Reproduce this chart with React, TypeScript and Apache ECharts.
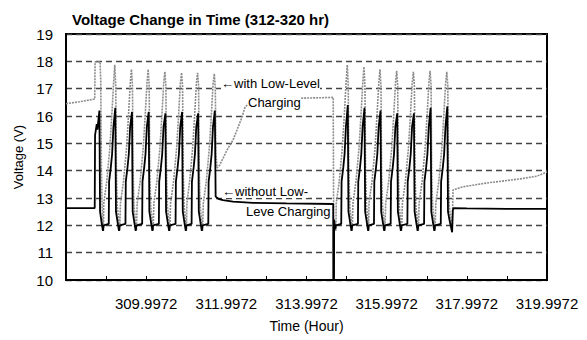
import React, { useEffect, useRef } from "react";
import * as echarts from "echarts";

// Time is given in minutes after 307.9972 hr; axis labels convert back to hours.
const T0_HOURS = 307.9972;
const X_MAX_MIN = 720;
const xLabelHours = [309.9972, 311.9972, 313.9972, 315.9972, 317.9972, 319.9972];
const Y_MIN = 10;
const Y_MAX = 19;

const seriesNames = ["with Low-Level Charging", "without Low-Level Charging"];

// with Low-Level Charging (grey dotted)
const withLowLevel: [number, number][] = [
  [0, 16.45], [20, 16.52], [43, 16.62], [43.5, 17.98], [51, 17.98], [52, 17.3], [53, 14.0], [54, 12.7], [55, 12.2], [56, 11.8],
  [56.5, 12.8], [61, 13.6], [65.5, 14.8], [68.5, 16.0], [71.2, 17.2], [73, 17.87], [74.5, 17.1], [75.4, 14.0], [76.8, 12.7], [79, 12.2], [80.5, 11.8],
  [81.5, 12.8], [86, 13.6], [90.5, 14.8], [93.5, 16.0], [96.2, 17.2], [98, 17.71], [99.5, 17.1], [100.4, 14.0], [101.8, 12.7], [104, 12.2], [105.5, 11.8],
  [106.5, 12.8], [111, 13.6], [115.5, 14.8], [118.5, 16.0], [121.2, 17.2], [123, 17.71], [124.5, 17.1], [125.4, 14.0], [126.8, 12.7], [129, 12.2], [130.5, 11.8],
  [131.5, 12.8], [136, 13.6], [140.5, 14.8], [143.5, 16.0], [146.2, 17.2], [148, 17.62], [149.5, 17.1], [150.4, 14.0], [151.8, 12.7], [154, 12.2], [155.5, 11.8],
  [156.5, 12.8], [161, 13.6], [165.5, 14.8], [168.5, 16.0], [171.2, 17.2], [173, 17.58], [174.5, 17.1], [175.4, 14.0], [176.8, 12.7], [179, 12.2], [180.3, 11.8],
  [181, 12.8], [185, 13.6], [189.5, 14.8], [192.5, 16.0], [195.2, 17.2], [197, 17.58], [198.5, 17.1], [199.4, 14.0], [200.8, 12.7], [203, 12.2], [204.5, 11.8],
  [205.5, 12.8], [210, 13.6], [214.5, 14.8], [217.5, 16.0], [220.2, 17.2], [222, 17.55], [223.5, 17.0], [224.5, 14.6], [226, 14.1],
  [230, 14.2], [235, 14.45], [242, 14.8], [250, 15.12], [257, 15.55], [263.5, 15.96], [268, 16.33], [274, 16.45], [280, 16.52], [298, 16.6], [350, 16.65], [400, 16.68],
  [400.6, 12.3], [402, 12.0], [404, 11.8],
  [404.5, 12.8], [409, 13.6], [413.5, 14.8], [416.5, 16.0], [419.2, 17.2], [421, 17.87], [422.5, 17.1], [423.4, 14.0], [424.8, 12.7], [427, 12.2], [428.5, 11.8],
  [429.5, 12.8], [434, 13.6], [438.5, 14.8], [441.5, 16.0], [444.2, 17.2], [446, 17.8], [447.5, 17.1], [448.4, 14.0], [449.8, 12.7], [452, 12.2], [453, 11.8],
  [453.5, 12.8], [458, 13.6], [462.5, 14.8], [465.5, 16.0], [468.2, 17.2], [470, 17.71], [471.5, 17.1], [472.4, 14.0], [473.8, 12.7], [476, 12.2], [477.5, 11.8],
  [478.5, 12.8], [483, 13.6], [487.5, 14.8], [490.5, 16.0], [493.2, 17.2], [495, 17.65], [496.5, 17.1], [497.4, 14.0], [498.8, 12.7], [501, 12.2], [502.5, 11.8],
  [503.5, 12.8], [508, 13.6], [512.5, 14.8], [515.5, 16.0], [518.2, 17.2], [520, 17.62], [521.5, 17.1], [522.4, 14.0], [523.8, 12.7], [526, 12.2], [527.5, 11.8],
  [528.5, 12.8], [533, 13.6], [537.5, 14.8], [540.5, 16.0], [543.2, 17.2], [545, 17.65], [546.5, 17.1], [547.4, 14.0], [548.8, 12.7], [551, 12.2], [552.5, 11.8],
  [553.5, 12.8], [558, 13.6], [562.5, 14.8], [565.5, 16.0], [568.2, 17.2], [570, 17.62], [571.5, 17.1], [572.4, 14.0], [573.8, 12.7], [576, 12.2], [578, 11.8],
  [579.3, 13.29], [594, 13.41], [630, 13.55], [680, 13.7], [705, 13.8], [720, 13.95],
];

// without Low-Level Charging (black solid)
const withoutLowLevel: [number, number][] = [
  [0, 12.63], [43, 12.63], [43.5, 15.3], [46, 15.7], [47, 15.5], [50, 16.2], [51, 12.5], [53, 12.15], [55.3, 11.8], [56.5, 12.0],
  [64, 12.05], [64.5, 13.6], [67, 14.1], [69, 14.6], [71, 15.6], [73.8, 16.3], [74.8, 12.5], [77, 12.15], [79.3, 11.8], [80.5, 12.0],
  [89, 12.05], [89.5, 13.6], [92, 14.1], [94, 14.6], [96, 15.6], [98.8, 16.15], [99.8, 12.5], [102, 12.15], [104.3, 11.8], [105.5, 12.0],
  [114, 12.05], [114.5, 13.6], [117, 14.1], [119, 14.6], [121, 15.6], [123.8, 16.15], [124.8, 12.5], [127, 12.15], [129.3, 11.8], [130.5, 12.0],
  [139, 12.05], [139.5, 13.6], [142, 14.1], [144, 14.6], [146, 15.6], [148.8, 16.1], [149.8, 12.5], [152, 12.15], [154.3, 11.8], [155.5, 12.0],
  [164, 12.05], [164.5, 13.6], [167, 14.1], [169, 14.6], [171, 15.6], [173.8, 16.15], [174.8, 12.5], [177, 12.15], [179.3, 11.8], [180.3, 12.0],
  [188, 12.05], [188.5, 13.6], [191, 14.1], [193, 14.6], [195, 15.6], [197.8, 16.1], [198.8, 12.5], [201, 12.15], [203.3, 11.8], [204.5, 12.0],
  [213, 12.05], [213.5, 13.6], [216, 14.1], [218, 14.6], [220, 15.6], [222.8, 16.2],
  [224, 13.05], [228, 12.97], [235, 12.92], [250, 12.87], [280, 12.82], [330, 12.8], [400, 12.78],
  [400.4, 0], [401.4, 12.2], [403, 11.85], [404, 12.0],
  [412, 12.05], [412.5, 13.6], [415, 14.1], [417, 14.6], [419, 15.6], [421.8, 16.4], [422.8, 12.5], [425, 12.15], [427.3, 11.8], [428.5, 12.0],
  [437, 12.05], [437.5, 13.6], [440, 14.1], [442, 14.6], [444, 15.6], [446.8, 16.3], [447.8, 12.5], [450, 12.15], [452.3, 11.8], [453.3, 12.0],
  [461, 12.05], [461.5, 13.6], [464, 14.1], [466, 14.6], [468, 15.6], [470.8, 16.2], [471.8, 12.5], [474, 12.15], [476.3, 11.8], [477.5, 12.0],
  [486, 12.05], [486.5, 13.6], [489, 14.1], [491, 14.6], [493, 15.6], [495.8, 16.1], [496.8, 12.5], [499, 12.15], [501.3, 11.8], [502.5, 12.0],
  [511, 12.05], [511.5, 13.6], [514, 14.1], [516, 14.6], [518, 15.6], [520.8, 16.1], [521.8, 12.5], [524, 12.15], [526.3, 11.8], [527.5, 12.0],
  [536, 12.05], [536.5, 13.6], [539, 14.1], [541, 14.6], [543, 15.6], [545.8, 16.3], [546.8, 12.5], [549, 12.15], [551.3, 11.8], [552.5, 12.0],
  [561, 12.05], [561.5, 13.6], [564, 14.1], [566, 14.6], [568, 15.6], [570.8, 16.35], [571.8, 12.5], [574, 12.2], [577, 11.85], [578, 11.75],
  [579, 12.55], [580, 12.63], [600, 12.62], [660, 12.6], [720, 12.6],
];

const FONT = "'Liberation Sans', Arial, sans-serif";

export default function App() {
  const ref = useRef<HTMLDivElement>(null);

  useEffect(() => {
    document.body.style.margin = "0";
    if (!ref.current) return;
    const chart = echarts.init(ref.current, undefined, { renderer: "svg" });
    const labelSet = new Set(xLabelHours.map((h) => Math.round((h - T0_HOURS) * 60)));
    chart.setOption({
      animation: false,
      backgroundColor: "#fff",
      textStyle: { fontFamily: FONT },
      title: {
        text: "Voltage Change in Time (312-320 hr)",
        left: 67,
        top: 7,
        textStyle: { fontFamily: FONT, fontSize: 15, fontWeight: "bold", color: "#000" },
      },
      grid: {
        left: 66,
        right: 40,
        top: 34,
        bottom: 60,
        show: true,
        borderColor: "#000",
        borderWidth: 2,
        backgroundColor: "#fff",
      },
      xAxis: {
        type: "value",
        min: 0,
        max: X_MAX_MIN,
        interval: 60,
        name: "Time (Hour)",
        nameLocation: "middle",
        nameGap: 39,
        nameTextStyle: { fontFamily: FONT, fontSize: 14, color: "#000" },
        axisLine: { show: true, lineStyle: { color: "#000", width: 2 } },
        axisTick: { show: true, inside: true, length: 4, lineStyle: { color: "#000", width: 1 } },
        splitLine: { show: false },
        axisLabel: {
          margin: 16,
          fontFamily: FONT,
          fontSize: 15,
          color: "#000",
          showMinLabel: false,
          showMaxLabel: true,
          formatter: (v: number) =>
            labelSet.has(Math.round(v)) ? (T0_HOURS + v / 60).toFixed(4) : "",
        },
      },
      yAxis: {
        type: "value",
        min: Y_MIN,
        max: Y_MAX,
        interval: 1,
        name: "Voltage (V)",
        nameLocation: "middle",
        nameGap: 34,
        nameRotate: 90,
        nameTextStyle: { fontFamily: FONT, fontSize: 13, color: "#000" },
        axisLine: { show: true, lineStyle: { color: "#000", width: 2 } },
        axisTick: { show: false },
        axisLabel: { margin: 13, fontFamily: FONT, fontSize: 15, color: "#000" },
        splitLine: {
          show: true,
          lineStyle: { color: "#444", width: 1.3, type: [6, 4] },
        },
      },
      series: [
        {
          name: seriesNames[0],
          type: "line",
          data: withLowLevel,
          symbol: "none",
          clip: true,
          lineStyle: { color: "#8c8c8c", width: 1.6, type: [2, 1] },
          z: 2,
        },
        {
          name: seriesNames[1],
          type: "line",
          data: withoutLowLevel,
          symbol: "none",
          clip: true,
          lineStyle: { color: "#000", width: 1.8 },
          z: 3,
        },
      ],
      graphic: [
        {
          type: "text",
          left: 221,
          top: 77,
          z: 10,
          style: { text: "\u2190with Low-Level", fontFamily: FONT, fontSize: 13, fill: "#000", backgroundColor: "#fff" },
        },
        {
          type: "text",
          left: 248,
          top: 96,
          z: 10,
          style: { text: "Charging", fontFamily: FONT, fontSize: 13, fill: "#000", backgroundColor: "#fff" },
        },
        {
          type: "text",
          left: 222,
          top: 185,
          z: 10,
          style: { text: "\u2190without Low-", fontFamily: FONT, fontSize: 13, fill: "#000", backgroundColor: "#fff" },
        },
        {
          type: "text",
          left: 246,
          top: 205,
          z: 10,
          style: { text: "Leve Charging", fontFamily: FONT, fontSize: 13, fill: "#000", backgroundColor: "#fff" },
        },
      ],
    });
    return () => chart.dispose();
  }, []);

  return <div ref={ref} style={{ width: 587, height: 340 }} />;
}
